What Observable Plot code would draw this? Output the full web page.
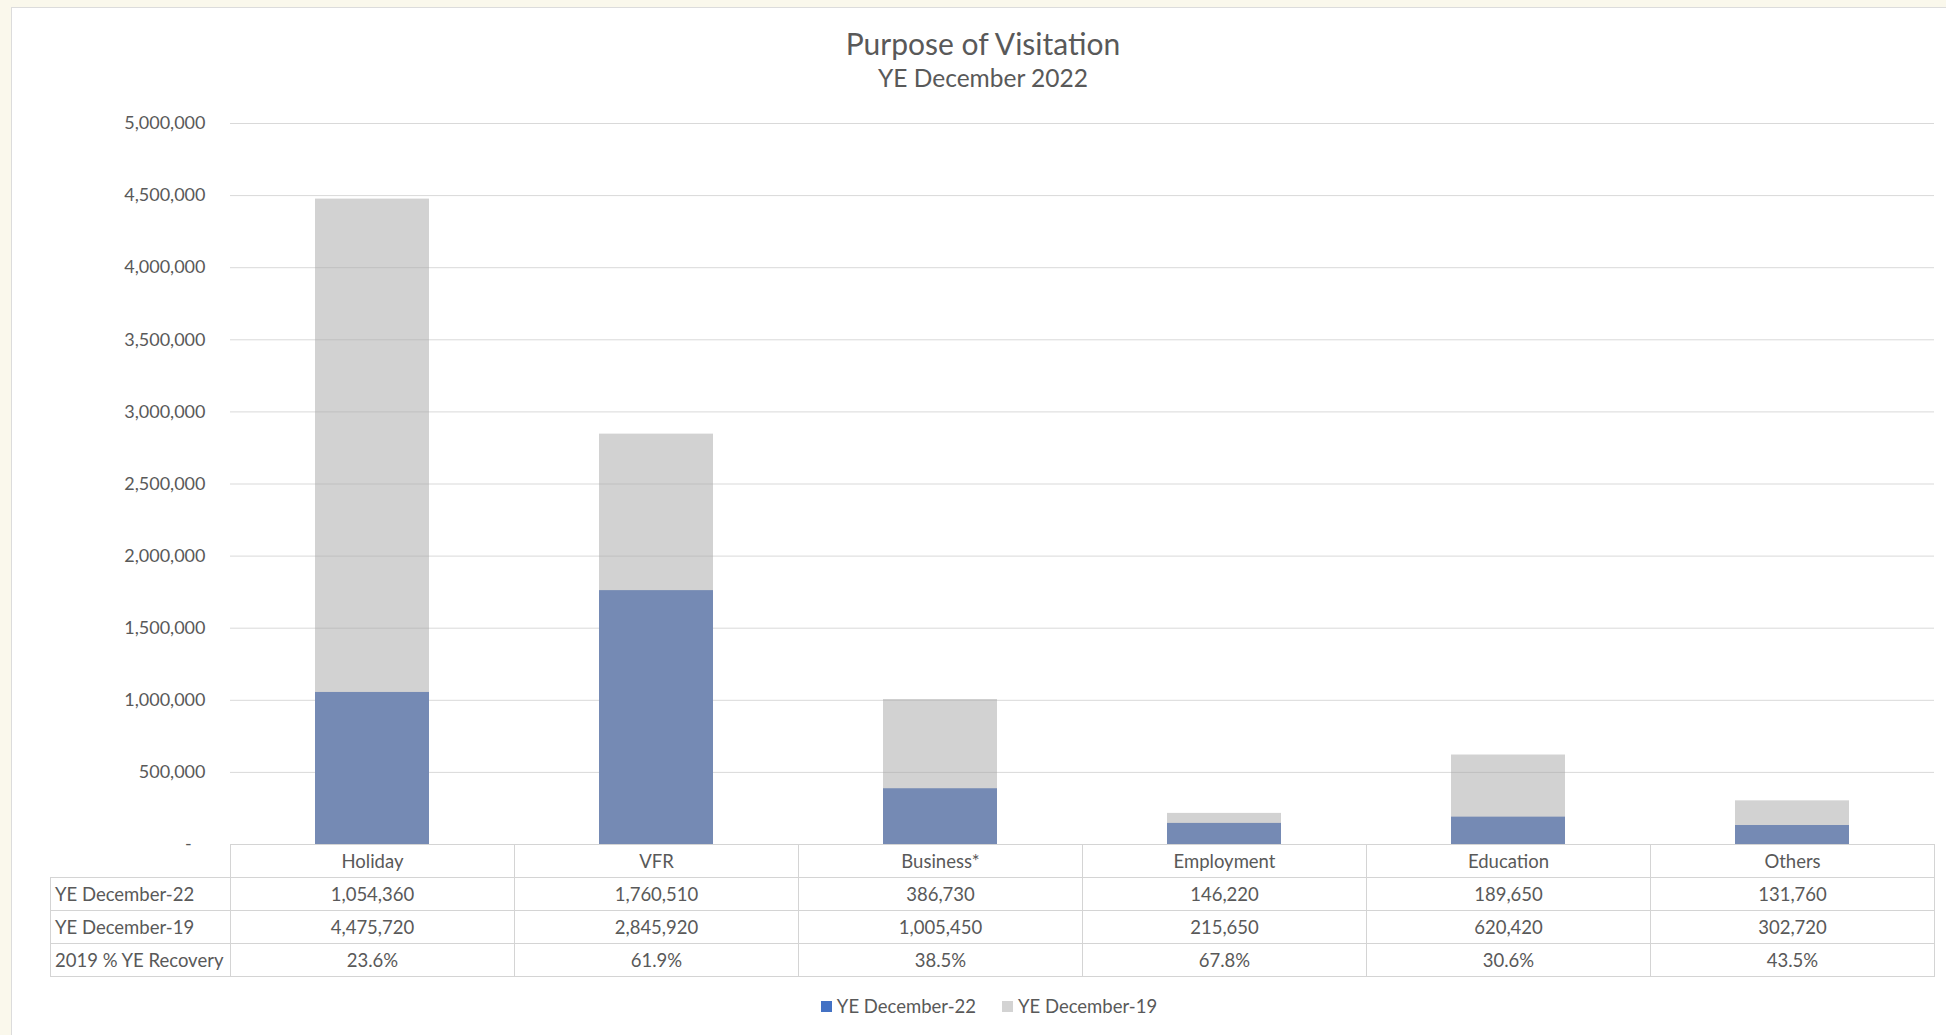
<!DOCTYPE html>
<html>
<head>
<meta charset="utf-8">
<script src="https://cdn.jsdelivr.net/npm/d3@7"></script>
<script src="https://cdn.jsdelivr.net/npm/@observablehq/plot@0.6"></script>
<style>
  html, body { margin: 0; padding: 0; background: #faf8ec; width: 1946px; height: 1035px; overflow: hidden;
    font-family: Lato, "Open Sans", sans-serif; color: #595959; }
  #panel { position: absolute; left: 11px; top: 7px; width: 1934px; height: 1027px; background: #fff;
    border-left: 1px solid #dcdcdc; border-top: 1px solid #dcdcdc; }
  #head { position: relative; height: 80px; }
  #title { position: absolute; left: 8px; right: 0; top: 17px; text-align: center; font-size: 30px; line-height: 36px; }
  #subtitle { position: absolute; left: 8px; right: 0; top: 56px; text-align: center; font-size: 24.5px; line-height: 28px; }
  #chart svg { display: block; }
  table { border-collapse: collapse; table-layout: fixed; font-size: 18.5px; color: #595959; }
  td { border: 1px solid #d4d4d4; height: 32px; padding: 0; text-align: center; white-space: nowrap; }
  td.lab { text-align: left; padding-left: 4px; }
  td.blank { border-top: none; border-left: none; }
  #legend { display: flex; justify-content: center; padding-left: 20px; margin-top: 18px; font-size: 18.5px; line-height: 22px; gap: 26px; }
  .item { display: flex; align-items: center; }
  .sw { display: inline-block; width: 11px; height: 11px; margin-right: 5px; }
</style>
</head>
<body>
<div id="panel">
  <div id="head"><div id="title"></div><div id="subtitle"></div></div>
  <div id="chart"></div>
  <div id="table"></div>
  <div id="legend"></div>
</div>
<script>
// ---- data ----
const titleText = "Purpose of Visitation";
const subtitleText = "YE December 2022";
const categories = ["Holiday", "VFR", "Business*", "Employment", "Education", "Others"];
const seriesNames = ["YE December-22", "YE December-19"];
const ye22 = [1054360, 1760510, 386730, 146220, 189650, 131760];
const ye19 = [4475720, 2845920, 1005450, 215650, 620420, 302720];
const recoveryLabel = "2019 % YE Recovery";
const recovery = ["23.6%", "61.9%", "38.5%", "67.8%", "30.6%", "43.5%"];
const yTicks = [0, 500000, 1000000, 1500000, 2000000, 2500000, 3000000, 3500000, 4000000, 4500000, 5000000];
const seriesColors = ["#758ab4", "#a5a5a5"];
const legendColors = ["#4472c4", "#d3d3d3"];

document.getElementById("title").textContent = titleText;
document.getElementById("subtitle").textContent = subtitleText;

const rows22 = categories.map((c, i) => ({category: c, value: ye22[i]}));
const rows19 = categories.map((c, i) => ({category: c, value: ye19[i]}));
const fmt = d3.format(",");

const plot = Plot.plot({
  width: 1934,
  height: 756,
  marginTop: 35,
  marginBottom: 0,
  marginLeft: 218,
  marginRight: 12,
  style: {fontFamily: "Lato, 'Open Sans', sans-serif", fontSize: "18px", color: "#595959", background: "transparent", overflow: "visible"},
  x: {domain: categories, paddingInner: 0.6, paddingOuter: 0.3, axis: null},
  y: {domain: [0, 5000000], axis: null},
  marks: [
    Plot.gridY(yTicks.filter(d => d > 0), {stroke: "#d9d9d9", strokeOpacity: 1}),
    Plot.axisY(yTicks, {label: null, tickSize: 0, tickPadding: 25, tickFormat: d => d === 0 ? "-\u00a0\u00a0\u00a0" : fmt(d)}),
    Plot.barY(rows19, {x: "category", y: "value", fill: seriesColors[1], fillOpacity: 0.5}),
    Plot.barY(rows22, {x: "category", y: "value", fill: seriesColors[0]})
  ]
});
document.getElementById("chart").appendChild(plot);

// ---- data table aligned to the band scale ----
const xs = plot.scale("x");
const colW = (xs.range[1] - xs.range[0]) / categories.length;
const labelW = 180;
const tbl = document.createElement("table");
tbl.style.marginLeft = (xs.range[0] - labelW) + "px";
tbl.style.width = (labelW + colW * categories.length) + "px";
const cg = document.createElement("colgroup");
[labelW, ...categories.map(() => colW)].forEach(w => {
  const c = document.createElement("col"); c.style.width = w + "px"; cg.appendChild(c);
});
tbl.appendChild(cg);
function addRow(label, cells, isHeader) {
  const tr = document.createElement("tr");
  const l = document.createElement("td");
  if (isHeader) l.className = "blank"; else { l.className = "lab"; l.textContent = label; }
  tr.appendChild(l);
  cells.forEach(v => { const td = document.createElement("td"); td.textContent = v; tr.appendChild(td); });
  tbl.appendChild(tr);
}
addRow("", categories, true);
addRow(seriesNames[0], ye22.map(fmt));
addRow(seriesNames[1], ye19.map(fmt));
addRow(recoveryLabel, recovery);
document.getElementById("table").appendChild(tbl);

// ---- legend ----
const lg = document.getElementById("legend");
seriesNames.forEach((n, i) => {
  const it = document.createElement("div"); it.className = "item";
  const sw = document.createElement("span"); sw.className = "sw"; sw.style.background = legendColors[i];
  const tx = document.createElement("span"); tx.textContent = n;
  it.appendChild(sw); it.appendChild(tx); lg.appendChild(it);
});
</script>
</body>
</html>
